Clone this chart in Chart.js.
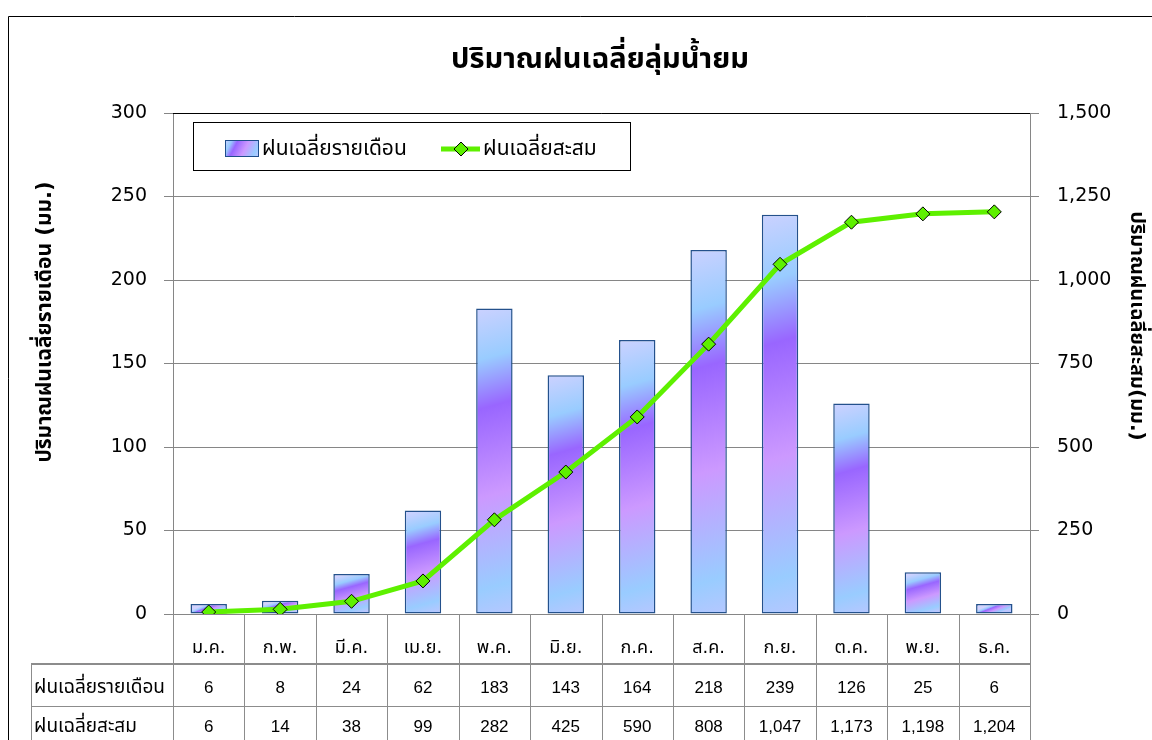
<!DOCTYPE html>
<html>
<head>
<meta charset="utf-8">
<script src="https://cdn.jsdelivr.net/npm/chart.js@4.4.0/dist/chart.umd.min.js"></script>
<style>
  html, body { margin: 0; padding: 0; background: #fff; }
  #wrap { width: 1152px; height: 740px; position: relative; }
</style>
</head>
<body>
<div id="wrap"><canvas id="rainChart"></canvas></div>
<script>
// ข้อมูลฝน
const months = ['ม.ค.', 'ก.พ.', 'มี.ค.', 'เม.ย.', 'พ.ค.', 'มิ.ย.', 'ก.ค.', 'ส.ค.', 'ก.ย.', 'ต.ค.', 'พ.ย.', 'ธ.ค.'];
const monthlyRain = [6, 8, 24, 62, 183, 143, 164, 218, 239, 126, 25, 6];
const cumulativeRain = [6, 14, 38, 99, 282, 425, 590, 808, 1047, 1173, 1198, 1204];
const monthlyLabel = 'ฝนเฉลี่ยรายเดือน';
const cumulativeLabel = 'ฝนเฉลี่ยสะสม';
const chartTitle = 'ปริมาณฝนเฉลี่ยลุ่มน้ำยม';
const leftTitle = 'ปริมาณฝนเฉลี่ยรายเดือน (มม.)';
const rightTitle = 'ปริมาณฝนเฉลี่ยสะสม(มม.)';

const FONT = '"DejaVu Sans", Tahoma, "Noto Sans Thai", sans-serif';
const NUM_FONT = '"Liberation Sans", "DejaVu Sans", sans-serif';
const GRID = '#868686';
const GREEN = '#5ef000';

// ไล่สีแท่งกราฟแบบเฉียง
function barGradient(c, x0, y0, x1, y1) {
    const g = c.createLinearGradient(x0, y0, x1, y1);
    g.addColorStop(0, '#d2d2ff');
    g.addColorStop(0.18, '#99ccff');
    g.addColorStop(0.33, '#9966ff');
    g.addColorStop(0.6, '#cc99ff');
    g.addColorStop(0.88, '#99ccff');
    g.addColorStop(1, '#bcc6ff');
    return g;
}

const barFill = (context) => {
    const chart = context.chart;
    if (!chart.chartArea || !chart.scales.y) return '#aab4ff';
    const x = chart.scales.x.getPixelForValue(context.dataIndex);
    const yTop = chart.scales.y.getPixelForValue(context.raw);
    const yBot = chart.scales.y.getPixelForValue(0);
    const dx = Math.max(0.14 * (yBot - yTop), 2);
    return barGradient(chart.ctx, x - dx, yTop, x + dx, yBot);
};

// ตาราง กรอบ ชื่อกราฟ และคำอธิบาย
const decorPlugin = {
    id: 'decor',
    afterDraw(chart) {
        const c = chart.ctx;
        const area = chart.chartArea;
        const xs = chart.scales.x;
        const step = (area.right - area.left) / months.length;
        c.save();

        // เส้นขอบบนของพื้นที่กราฟ
        c.strokeStyle = '#000';
        c.lineWidth = 1;
        c.beginPath();
        c.moveTo(area.left, area.top + 0.5);
        c.lineTo(area.right, area.top + 0.5);
        c.stroke();

        // กรอบนอก
        c.beginPath();
        c.moveTo(8.5, 740);
        c.lineTo(8.5, 16.5);
        c.lineTo(1152, 16.5);
        c.stroke();

        // ชื่อกราฟ
        c.fillStyle = '#000';
        c.font = 'bold 29px ' + FONT;
        c.textAlign = 'center';
        c.textBaseline = 'middle';
        c.fillText(chartTitle, 600, 60);

        // ชื่อแกน
        c.font = 'bold 21px ' + FONT;
        c.save();
        c.translate(46, 322);
        c.rotate(-Math.PI / 2);
        c.fillText(leftTitle, 0, 0);
        c.restore();
        c.font = 'bold 20px ' + FONT;
        c.save();
        c.translate(1136, 326);
        c.rotate(Math.PI / 2);
        c.fillText(rightTitle, 0, 0);
        c.restore();

        // ตารางข้อมูล
        const tLeft = 31;
        const row1 = 664, row2 = 706, tBottom = 740;
        c.strokeStyle = '#8c8c8c';
        c.lineWidth = 1;
        c.beginPath();
        for (let i = 0; i <= months.length; i++) {
            const bx = Math.round(area.left + i * step) + 0.5;
            c.moveTo(bx, area.bottom);
            c.lineTo(bx, tBottom);
        }
        c.moveTo(tLeft + 0.5, row1);
        c.lineTo(tLeft + 0.5, tBottom);
        c.moveTo(tLeft, row2 + 0.5);
        c.lineTo(area.right, row2 + 0.5);
        c.stroke();
        c.lineWidth = 2;
        c.beginPath();
        c.moveTo(tLeft, row1);
        c.lineTo(area.right, row1);
        c.stroke();

        c.fillStyle = '#000';
        c.font = '19px ' + FONT;
        c.textAlign = 'left';
        c.fillText(monthlyLabel, tLeft + 3, 688);
        c.fillText(cumulativeLabel, tLeft + 3, 727);
        c.font = '17px ' + NUM_FONT;
        c.textAlign = 'center';
        months.forEach((m, i) => {
            const cx = xs.getPixelForValue(i);
            c.fillText(monthlyRain[i].toLocaleString('en-US'), cx, 688);
            c.fillText(cumulativeRain[i].toLocaleString('en-US'), cx, 727);
        });

        // คำอธิบายสัญลักษณ์
        c.fillStyle = '#fff';
        c.fillRect(193, 122, 437, 48);
        c.strokeStyle = '#000';
        c.lineWidth = 1;
        c.strokeRect(193.5, 122.5, 437, 48);
        c.fillStyle = barGradient(c, 225, 139, 258, 156);
        c.fillRect(225, 140, 33, 16);
        c.strokeStyle = '#1f4e8c';
        c.strokeRect(225.5, 140.5, 33, 16);
        c.fillStyle = '#000';
        c.font = '21px ' + FONT;
        c.textAlign = 'left';
        c.fillText(monthlyLabel, 262, 150);
        c.strokeStyle = GREEN;
        c.lineWidth = 5;
        c.beginPath();
        c.moveTo(441, 149);
        c.lineTo(480, 149);
        c.stroke();
        c.fillStyle = GREEN;
        c.strokeStyle = '#000';
        c.lineWidth = 1;
        c.beginPath();
        c.moveTo(461, 142);
        c.lineTo(468, 149);
        c.lineTo(461, 156);
        c.lineTo(454, 149);
        c.closePath();
        c.fill();
        c.stroke();
        c.fillStyle = '#000';
        c.fillText(cumulativeLabel, 483, 150);

        c.restore();
    }
};

const ctx = document.getElementById('rainChart').getContext('2d');
const rainChart = new Chart(ctx, {
    data: {
        labels: months,
        datasets: [{
            type: 'line',
            label: cumulativeLabel,
            data: cumulativeRain,
            yAxisID: 'y1',
            borderColor: GREEN,
            borderWidth: 5,
            pointStyle: 'rectRot',
            pointRadius: 7,
            pointBackgroundColor: GREEN,
            pointBorderColor: '#000',
            pointBorderWidth: 1,
            tension: 0,
            order: 1
        }, {
            type: 'bar',
            label: monthlyLabel,
            data: monthlyRain,
            yAxisID: 'y',
            backgroundColor: barFill,
            borderColor: '#24518c',
            borderWidth: 1.5,
            borderSkipped: false,
            categoryPercentage: 1,
            barPercentage: 0.51,
            order: 2
        }]
    },
    options: {
        responsive: true,
        maintainAspectRatio: false,
        animation: false,
        layout: { padding: { top: 113, left: 0, right: 0, bottom: 0 } },
        plugins: {
            legend: { display: false },
            title: { display: false },
            tooltip: { enabled: false }
        },
        scales: {
            x: {
                grid: { display: false },
                border: { color: GRID },
                ticks: {
                    color: '#000',
                    padding: 16,
                    font: { family: FONT, size: 18 }
                },
                afterFit: (s) => { s.height = 126; }
            },
            y: {
                position: 'left',
                min: 0,
                max: 300,
                ticks: {
                    stepSize: 50,
                    color: '#000',
                    padding: 17,
                    font: { family: FONT, size: 19 }
                },
                grid: { color: GRID, tickLength: 9 },
                border: { color: GRID },
                afterFit: (s) => { s.width = 173; }
            },
            y1: {
                position: 'right',
                min: 0,
                max: 1500,
                ticks: {
                    stepSize: 250,
                    color: '#000',
                    padding: 18,
                    font: { family: FONT, size: 19 },
                    callback: (v) => v.toLocaleString('en-US')
                },
                grid: { drawOnChartArea: false, color: GRID, tickLength: 9 },
                border: { color: GRID },
                afterFit: (s) => { s.width = 122; }
            }
        }
    },
    plugins: [decorPlugin]
});
</script>
</body>
</html>
